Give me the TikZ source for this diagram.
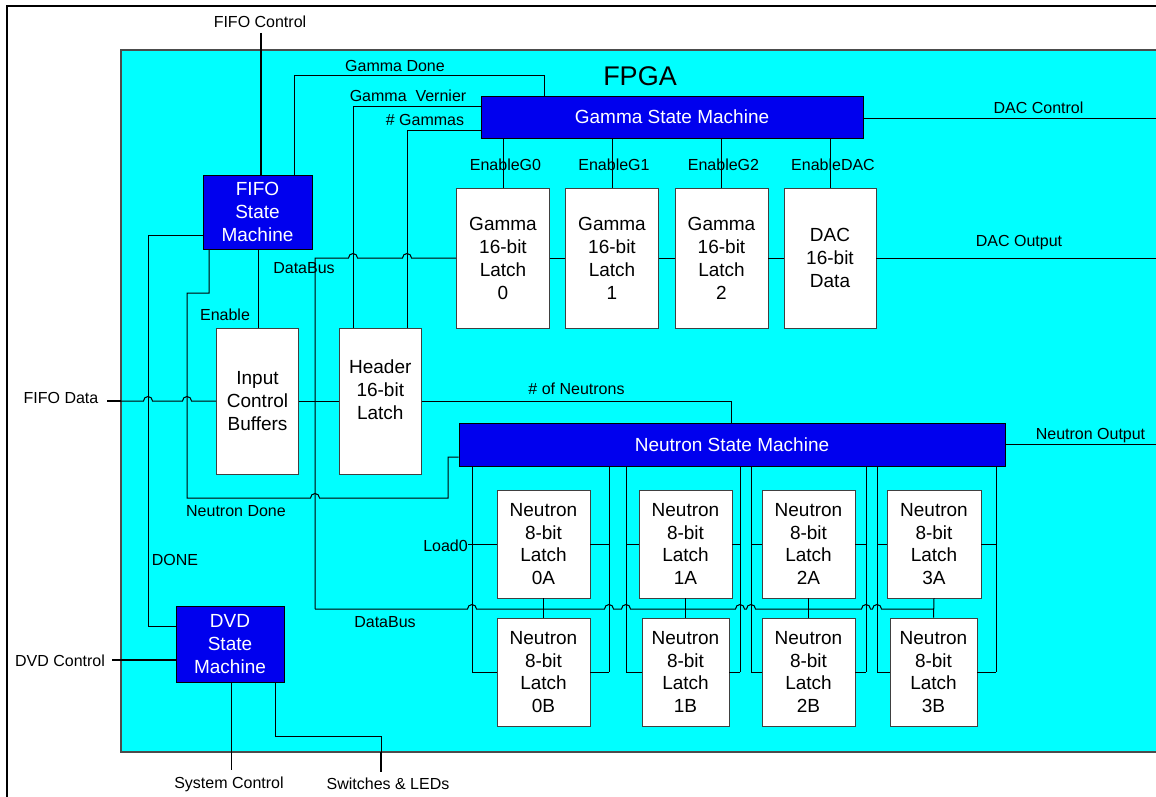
\documentclass[tikz,border=0pt]{standalone}
\usepackage{fontspec}
\setmainfont{Liberation Sans}
\definecolor{smblue}{RGB}{0,0,238}
\definecolor{fpgacyan}{RGB}{0,255,255}
\begin{document}
\begin{tikzpicture}[x=1pt,y=-1pt,
  wire/.style={line width=1pt,black},
  ext/.style={line width=1.8pt,black},
  smbox/.style={draw=black,line width=0.8pt,fill=smblue,text=white,inner sep=0pt,align=center,font=\fontsize{19}{23}\selectfont},
  latch/.style={draw=black!75,line width=0.8pt,fill=white,inner sep=0pt,align=center,font=\fontsize{19}{23}\selectfont},
  nlatch/.style={latch,font=\fontsize{19}{22.7}\selectfont},
  boxtext/.style={inner sep=0pt,align=center,font=\fontsize{19}{23}\selectfont},
  lbl/.style={inner sep=0pt,font=\fontsize{16}{18}\selectfont},
]
\useasboundingbox (0,0) rectangle (1156,797);
\fill[white] (0,0) rectangle (1156,797);
\draw[line width=2pt] (7,800) -- (7,6) -- (1160,6);
\draw[fill=fpgacyan,draw=black!70,line width=1.5pt] (121,50) rectangle (1170,752);
\node[inner sep=0pt,font=\fontsize{27}{30}\selectfont] (fpga) at (640,76) {FPGA};

% state machines
\node[smbox,minimum width=382pt,minimum height=42pt] (gsm) at (672,117) {Gamma State Machine};
\node[smbox,minimum width=109pt,minimum height=74pt] (fifo) at (257.5,212) {FIFO\\State\\Machine};
\node[smbox,minimum width=108pt,minimum height=76pt] (dvd) at (230,644) {DVD\\State\\Machine};
\node[smbox,minimum width=546pt,minimum height=43pt] (nsm) at (732,444.5) {Neutron State Machine};

% gamma latches
\node[latch,minimum width=93pt,minimum height=140pt] (g0) at (503,258) {Gamma\\16-bit\\Latch\\0};
\node[latch,minimum width=93pt,minimum height=140pt] (g1) at (612,258) {Gamma\\16-bit\\Latch\\1};
\node[latch,minimum width=93pt,minimum height=140pt] (g2) at (721.5,258) {Gamma\\16-bit\\Latch\\2};
\node[latch,minimum width=92pt,minimum height=140pt] (dac) at (830,258) {DAC\\16-bit\\Data};

\node[latch,minimum width=82pt,minimum height=146pt] (icb) at (257.5,401) {Input\\Control\\Buffers};
\node[latch,minimum width=82pt,minimum height=146pt] (hdr) at (380.3,401) {};
\node[boxtext] (hdrtext) at (380.3,390) {Header\\16-bit\\Latch};

% neutron latches
\node[nlatch,minimum width=93pt,minimum height=108pt] (n0a) at (543.5,544) {Neutron\\8-bit\\Latch\\0A};
\node[nlatch,minimum width=93pt,minimum height=108pt] (n1a) at (685.5,544) {Neutron\\8-bit\\Latch\\1A};
\node[nlatch,minimum width=93pt,minimum height=108pt] (n2a) at (808.5,544) {Neutron\\8-bit\\Latch\\2A};
\node[nlatch,minimum width=94pt,minimum height=108pt] (n3a) at (934,544) {Neutron\\8-bit\\Latch\\3A};
\node[nlatch,minimum width=93pt,minimum height=108pt] (n0b) at (543.5,672) {Neutron\\8-bit\\Latch\\0B};
\node[nlatch,minimum width=87pt,minimum height=108pt] (n1b) at (685.5,672) {Neutron\\8-bit\\Latch\\1B};
\node[nlatch,minimum width=93pt,minimum height=108pt] (n2b) at (808.5,672) {Neutron\\8-bit\\Latch\\2B};
\node[nlatch,minimum width=87pt,minimum height=108pt] (n3b) at (933.5,672) {Neutron\\8-bit\\Latch\\3B};

% free ends
\coordinate (fifoctl) at (261,33);
\coordinate (dacctl) at (1160,119);
\coordinate (dacout) at (1160,258);
\coordinate (nout) at (1160,444.5);
\coordinate (fifodata) at (107,401);
\coordinate (dvdctl) at (112,660);
\coordinate (sysctl) at (231,770);
\coordinate (swled) at (381,772);

% wires
\draw[ext] (fifoctl) -- (fifoctl |- fifo.north);
\draw[wire] (gsm.north -| 544,0) -- (544,76) -| (fifo.north -| 294,0);
\draw[wire] (gsm.west |- 0,107) -| (hdr.north -| 353,0);
\draw[wire] (gsm.west |- 0,131) -| (hdr.north -| 407,0);
\foreach \n in {g0,g1,g2,dac} \draw[wire] (\n.north) -- (\n.north |- gsm.south);
\draw[wire] (gsm.east |- dacctl) -- (dacctl);
\draw[wire] (315,609) -- (315,258) -- (348.5,258) arc[start angle=180,end angle=0,radius=4.5pt]
  -- (402.5,258) arc[start angle=180,end angle=0,radius=4.5pt] -- (g0.west);
\draw[wire] (g0.east) -- (g1.west);
\draw[wire] (g1.east) -- (g2.west);
\draw[wire] (g2.east) -- (dac.west);
\draw[wire] (dac.east) -- (dacout);
\draw[wire] (fifo.south -| 258,0) -- (icb.north -| 258,0);
\draw[ext] (fifodata) -- (121,401);
\draw[wire] (121,401) -- (143.5,401) arc[start angle=180,end angle=0,radius=4.5pt]
  -- (182.5,401) arc[start angle=180,end angle=0,radius=4.5pt] -- (icb.west);
\draw[wire] (icb.east) -- (hdr.west);
\draw[wire] (hdr.east) -| (nsm.north -| 731,0);
\draw[wire] (nsm.west |- 0,457) -- (448,457) -- (448,498) -- (319.5,498)
  arc[start angle=0,end angle=180,radius=4.5pt] -- (187,498) -- (187,293) -- (209,293) -- (fifo.south -| 209,0);
\draw[wire] (fifo.west |- 0,235) -- (148,235) |- (dvd.west |- 0,626);
\draw[ext] (dvdctl) -- (dvd.west |- dvdctl);
\draw[wire] (dvd.south -| sysctl) -- (sysctl);
\draw[wire] (dvd.south -| 275,0) |- (381,736) -- (381,752);
\draw[ext] (381,752) -- (swled);
\draw[wire] (nsm.east) -- (nout);

\foreach \x in {472,609,626,740,751,866,877,996} \draw[wire] (nsm.south -| \x,0) -- (\x,672);
\draw[wire] (468,544) -- (n0a.west);
\draw[wire] (n0a.east) -- (609,544);
\draw[wire] (626,544) -- (n1a.west);
\draw[wire] (n1a.east) -- (740,544);
\draw[wire] (751,544) -- (n2a.west);
\draw[wire] (n2a.east) -- (866,544);
\draw[wire] (877,544) -- (n3a.west);
\draw[wire] (n3a.east) -- (996,544);
\draw[wire] (472,672) -- (n0b.west);
\draw[wire] (n0b.east) -- (609,672);
\draw[wire] (626,672) -- (n1b.west);
\draw[wire] (n1b.east) -- (740,672);
\draw[wire] (751,672) -- (n2b.west);
\draw[wire] (n2b.east) -- (866,672);
\draw[wire] (877,672) -- (n3b.west);
\draw[wire] (n3b.east) -- (996,672);
\draw[wire] (n0a.south) -- (n0b.north);
\draw[wire] (n1a.south) -- (n1b.north);
\draw[wire] (n2a.south) -- (n2b.north);
\draw[wire] (n3a.south) -- (n3b.north);
\draw[wire] (315,609) -- (467.5,609) arc[start angle=180,end angle=0,radius=4.5pt]
  -- (604.5,609) arc[start angle=180,end angle=0,radius=4.5pt]
  -- (621.5,609) arc[start angle=180,end angle=0,radius=4.5pt]
  -- (735.5,609) arc[start angle=180,end angle=0,radius=4.5pt]
  -- (746.5,609) arc[start angle=180,end angle=0,radius=4.5pt]
  -- (861.5,609) arc[start angle=180,end angle=0,radius=4.5pt]
  -- (872.5,609) arc[start angle=180,end angle=0,radius=4.5pt]
  -- (n3a.south |- 0,609);

% labels
\node[lbl] (l1) at (260,22) {FIFO Control};
\node[lbl] (l2) at (395,66) {Gamma Done};
\node[lbl] (l3) at (408,96) {Gamma\ \ Vernier};
\node[lbl] (l4) at (425,120) {\# Gammas};
\node[lbl] (l5) at (505.5,165) {EnableG0};
\node[lbl] (l6) at (614,165) {EnableG1};
\node[lbl] (l7) at (723.5,165) {EnableG2};
\node[lbl] (l8) at (833,165) {EnableDAC};
\node[lbl] (l9) at (1038.5,108) {DAC Control};
\node[lbl] (l10) at (1019,243) {DAC Output};
\node[lbl] (l11) at (304,268) {DataBus};
\node[lbl] (l12) at (225,315) {Enable};
\node[lbl] (l13) at (61,398) {FIFO Data};
\node[lbl] (l14) at (576.5,389) {\# of Neutrons};
\node[lbl] (l15) at (1090.5,436) {Neutron Output};
\node[lbl] (l16) at (236,511) {Neutron Done};
\node[lbl] (l17) at (445.5,546) {Load0};
\node[lbl] (l18) at (175,560) {DONE};
\node[lbl] (l19) at (385,622) {DataBus};
\node[lbl] (l20) at (60,661) {DVD Control};
\node[lbl] (l21) at (229,784) {System Control};
\node[lbl] (l22) at (388,784) {Switches \& LEDs};
\end{tikzpicture}
\end{document}
